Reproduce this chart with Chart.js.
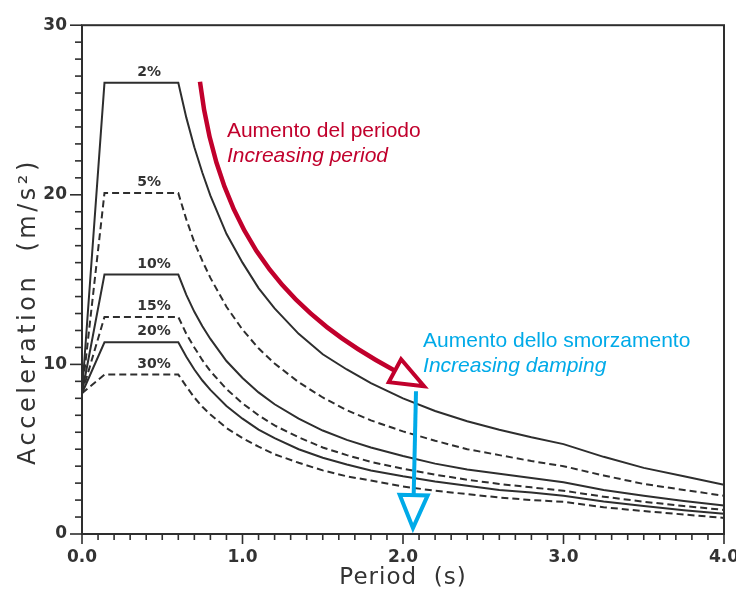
<!DOCTYPE html>
<html><head><meta charset="utf-8">
<script src="https://cdn.jsdelivr.net/npm/chart.js@4.4.1/dist/chart.umd.min.js"></script>
<style>html,body{margin:0;padding:0;background:#fff;}#wrap{width:736px;height:589px;}</style>
</head><body><div id="wrap"><canvas id="c" width="736" height="589"></canvas></div>
<script>
// Period (s)
const periods = [0, 0.14, 0.6, 0.65, 0.7, 0.75, 0.8, 0.9, 1.0, 1.1, 1.2, 1.35, 1.5, 1.65, 1.8, 2.0, 2.2, 2.4, 2.6, 2.8, 3.0, 3.25, 3.5, 3.75, 4.0];
// Acceleration (m/s²) per damping ratio
const acc2  = [8.3, 26.6, 26.6, 24.55, 22.8, 21.3, 19.95, 17.7, 16.0, 14.5, 13.3, 11.8, 10.6, 9.7, 8.9, 8.0, 7.25, 6.65, 6.15, 5.7, 5.3, 4.55, 3.9, 3.4, 2.9];
const acc5  = [8.3, 20.1, 20.1, 18.55, 17.2, 16.1, 15.1, 13.4, 12.05, 10.95, 10.05, 8.95, 8.05, 7.3, 6.7, 6.05, 5.5, 5.0, 4.65, 4.3, 4.0, 3.45, 2.95, 2.6, 2.25];
const acc10 = [8.3, 15.3, 15.3, 14.1, 13.1, 12.25, 11.5, 10.2, 9.2, 8.35, 7.65, 6.8, 6.1, 5.55, 5.1, 4.6, 4.15, 3.8, 3.55, 3.3, 3.05, 2.6, 2.25, 1.95, 1.68];
const acc15 = [8.3, 12.8, 12.8, 11.8, 11.0, 10.25, 9.6, 8.55, 7.7, 7.0, 6.4, 5.7, 5.1, 4.65, 4.25, 3.85, 3.5, 3.2, 2.95, 2.75, 2.55, 2.2, 1.9, 1.65, 1.42];
const acc20 = [8.3, 11.3, 11.3, 10.45, 9.7, 9.05, 8.5, 7.55, 6.8, 6.15, 5.65, 5.0, 4.5, 4.1, 3.75, 3.4, 3.1, 2.85, 2.6, 2.45, 2.25, 1.92, 1.65, 1.4, 1.2];
const acc30 = [8.3, 9.4, 9.4, 8.7, 8.05, 7.5, 7.05, 6.25, 5.65, 5.15, 4.7, 4.2, 3.75, 3.4, 3.15, 2.8, 2.55, 2.35, 2.15, 2.0, 1.9, 1.58, 1.35, 1.15, 0.95];
const dampingLabels = ['2%', '5%', '10%', '15%', '20%', '30%'];
const xTickLabels = ['0.0', '1.0', '2.0', '3.0', '4.0'];
const yTickLabels = ['0', '10', '20', '30'];

const seriesValues = [acc2, acc5, acc10, acc15, acc20, acc30];
const dashedSeries = [false, true, false, true, false, true];
const INK = '#2e2e2e';
const RED = '#c1002c';
const BLUE = '#00aae8';

const datasets = seriesValues.map((vals, i) => ({
  label: dampingLabels[i],
  data: periods.map((p, j) => ({x: p, y: vals[j]})),
  borderColor: INK,
  borderWidth: 2,
  borderDash: dashedSeries[i] ? [7, 4] : [],
  pointRadius: 0,
  tension: 0,
  fill: false
}));

function isMultiple(v, step) { return Math.abs(v / step - Math.round(v / step)) < 1e-6; }

const decorations = {
  id: 'decorations',
  afterDraw(chart) {
    const ctx = chart.ctx;
    const a = chart.chartArea;
    const xs = chart.scales.x, ys = chart.scales.y;
    const P = (t, v) => [xs.getPixelForValue(t), ys.getPixelForValue(v)];
    ctx.save();
    // frame
    ctx.strokeStyle = INK; ctx.lineWidth = 2; ctx.setLineDash([]);
    ctx.strokeRect(a.left, a.top, a.right - a.left, a.bottom - a.top);
    // ticks
    ctx.lineWidth = 1.6;
    ys.ticks.forEach(t => {
      const y = ys.getPixelForValue(t.value);
      const len = isMultiple(t.value, 10) ? 12 : 7;
      ctx.beginPath(); ctx.moveTo(a.left - len, y); ctx.lineTo(a.left, y); ctx.stroke();
    });
    xs.ticks.forEach(t => {
      const x = xs.getPixelForValue(t.value);
      const len = isMultiple(t.value, 1) ? 10 : 6;
      ctx.beginPath(); ctx.moveTo(x, a.bottom); ctx.lineTo(x, a.bottom + len); ctx.stroke();
    });
    // axis titles
    ctx.fillStyle = '#333';
    ctx.font = '23px "DejaVu Sans"';
    ctx.letterSpacing = '1px';
    ctx.textBaseline = 'alphabetic';
    ctx.textAlign = 'left';
    let txt = 'Period  (s)';
    let w = ctx.measureText(txt).width;
    ctx.fillText(txt, (a.left + a.right) / 2 - w / 2, 584);
    ctx.save();
    ctx.font = '24px "DejaVu Sans"';
    ctx.letterSpacing = '3.5px';
    txt = 'Acceleration  (m/s\u00B2)';
    w = ctx.measureText(txt).width;
    ctx.translate(35, (a.top + a.bottom) / 2 + 32);
    ctx.rotate(-Math.PI / 2);
    ctx.fillText(txt, -w / 2, 0);
    ctx.restore();
    ctx.letterSpacing = '0px';
    // damping labels
    ctx.font = 'bold 14px "DejaVu Sans"';
    ctx.fillStyle = '#333';
    seriesValues.forEach((vals, i) => {
      const [x, y] = P(0.345, vals[1]);
      ctx.fillText(dampingLabels[i], x, y - 7);
    });
    // red curved arrow
    ctx.strokeStyle = RED; ctx.lineWidth = 4.5; ctx.lineCap = 'butt'; ctx.lineJoin = 'miter';
    const p0 = P(0.735, 26.67), p1 = P(0.86, 16.9), p2 = P(1.358, 12.63), p3 = P(2.131, 8.71);
    let dx = p3[0] - p2[0], dy = p3[1] - p2[1];
    let L = Math.hypot(dx, dy); dx /= L; dy /= L;
    const headLen = 33, headHalf = 13;
    const base = [p3[0] - dx * headLen, p3[1] - dy * headLen];
    ctx.beginPath(); ctx.moveTo(p0[0], p0[1]);
    ctx.bezierCurveTo(p1[0], p1[1], p2[0], p2[1], base[0], base[1]);
    ctx.stroke();
    ctx.lineWidth = 4;
    ctx.beginPath();
    ctx.moveTo(p3[0], p3[1]);
    ctx.lineTo(base[0] - dy * headHalf, base[1] + dx * headHalf);
    ctx.lineTo(base[0] + dy * headHalf, base[1] - dx * headHalf);
    ctx.closePath();
    ctx.stroke();
    // blue arrow
    ctx.strokeStyle = BLUE; ctx.lineWidth = 4;
    const b0 = P(2.081, 8.42), b1 = P(2.062, 0.35);
    dx = b1[0] - b0[0]; dy = b1[1] - b0[1]; L = Math.hypot(dx, dy); dx /= L; dy /= L;
    const bb = [b1[0] - dx * 33, b1[1] - dy * 33];
    ctx.beginPath(); ctx.moveTo(b0[0], b0[1]); ctx.lineTo(bb[0], bb[1]); ctx.stroke();
    ctx.beginPath();
    ctx.moveTo(b1[0], b1[1]);
    ctx.lineTo(bb[0] - dy * 14, bb[1] + dx * 14);
    ctx.lineTo(bb[0] + dy * 14, bb[1] - dx * 14);
    ctx.closePath(); ctx.stroke();
    // annotation texts
    let [tx, ty] = P(0.903, 23.39);
    ctx.fillStyle = RED;
    ctx.font = '21px "Liberation Sans"';
    ctx.fillText('Aumento del periodo', tx, ty);
    ctx.font = 'italic 21px "Liberation Sans"';
    ctx.fillText('Increasing period', tx, ty + 25);
    [tx, ty] = P(2.125, 11.05);
    ctx.fillStyle = BLUE;
    ctx.font = '21px "Liberation Sans"';
    ctx.fillText('Aumento dello smorzamento', tx, ty);
    ctx.font = 'italic 21px "Liberation Sans"';
    ctx.fillText('Increasing damping', tx, ty + 25);
    ctx.restore();
  }
};

new Chart(document.getElementById('c'), {
  type: 'line',
  data: { datasets },
  options: {
    responsive: false,
    animation: false,
    devicePixelRatio: 1,
    layout: { padding: { top: 21, right: 12, left: 0, bottom: 0 } },
    plugins: { legend: { display: false }, tooltip: { enabled: false } },
    scales: {
      x: {
        type: 'linear', min: 0, max: 4,
        grid: { display: false, drawTicks: false },
        border: { display: false },
        ticks: {
          stepSize: 0.1, autoSkip: false, maxRotation: 0, maxTicksLimit: 100,
          padding: 13, color: '#333',
          font: { family: 'DejaVu Sans', size: 17, weight: 'bold' },
          callback: v => isMultiple(v, 1) ? xTickLabels[Math.round(v)] : ''
        },
        afterFit: s => { s.height = 55; s.paddingLeft = 0; s.paddingRight = 0; }
      },
      y: {
        type: 'linear', min: 0, max: 30,
        grid: { display: false, drawTicks: false },
        border: { display: false },
        ticks: {
          stepSize: 1, autoSkip: false, maxTicksLimit: 100,
          padding: 15, color: '#333',
          font: { family: 'DejaVu Sans', size: 17, weight: 'bold' },
          callback: v => isMultiple(v, 10) ? yTickLabels[Math.round(v / 10)] : ''
        },
        afterFit: s => { s.width = 82; }
      }
    }
  },
  plugins: [decorations]
});
</script></body></html>
